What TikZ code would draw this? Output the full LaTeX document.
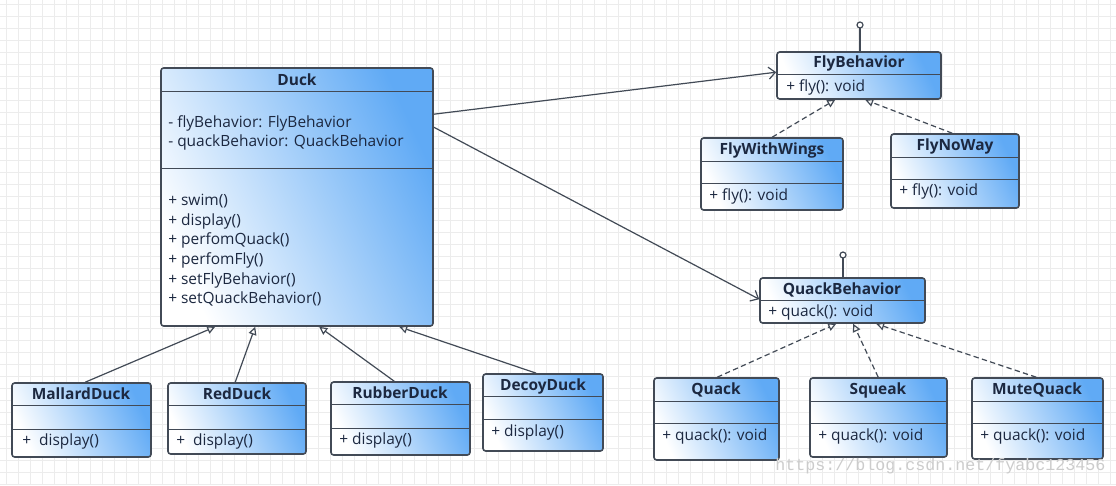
\documentclass[tikz,border=0pt]{standalone}
\usepackage{fontspec}
\setmainfont{Open Sans}
\newfontfamily\wmfont{Liberation Mono}
\usetikzlibrary{arrows.meta}
\usetikzlibrary{fit}
\usetikzlibrary{calc}

\definecolor{umlblue}{RGB}{96,170,245}
\definecolor{umledge}{RGB}{66,74,86}
\definecolor{umltext}{RGB}{28,40,64}
\definecolor{gridgray}{RGB}{236,236,236}

\tikzset{
  umlclass/.style={draw=umledge, line width=1.2pt, rounded corners=2pt,
    left color=white, right color=umlblue, shading angle=115, inner sep=0pt},
  classname/.style={font=\bfseries\fontsize{11.6}{13}\selectfont, text=umltext, inner sep=0pt},
  members/.style={font=\fontsize{11.6}{14.7}\selectfont, text=umltext, align=left, inner sep=0pt},
  sepline/.style={draw=umledge, line width=1pt},
  assoc/.style={draw=umledge, line width=0.9pt, -{Straight Barb[length=5pt,width=9pt]}},
  inherit/.style={draw=umledge, line width=0.9pt, -{Triangle[open,length=6pt,width=6pt]}},
  realize/.style={inherit, dash pattern=on 4pt off 2.5pt},
  gridline/.style={draw=gridgray, line width=0.4pt},
}

\begin{document}
\begin{tikzpicture}[x=0.75pt, y=-0.75pt]
    \useasboundingbox (0,0) rectangle (1116,485);
    \fill[white] (0,0) rectangle (1116,485);
    % background grid
    \foreach \gx in {6,18,...,1116} \draw[gridline] (\gx,0) -- (\gx,485);
    \foreach \gy in {4,16,...,485} \draw[gridline] (0,\gy) -- (1116,\gy);

    % Duck
    \node[umlclass, fit={(161,68) (433,326)}] (duck) {};
    \node[classname] (duckname) at (297,80) {Duck};
    \draw[sepline] ($(duck.north west)+(0,24)$) -- ($(duck.north east)+(0,24)$);
    \draw[sepline] ($(duck.north west)+(0,101)$) -- ($(duck.north east)+(0,101)$);
    \node[members, anchor=north west] (duckattr) at (168,115) {%
      - flyBehavior: FlyBehavior\\
      - quackBehavior: QuackBehavior};
    \node[members, anchor=north west] (duckops) at (168,194) {%
      + swim()\\
      + display()\\
      + perfomQuack()\\
      + perfomFly()\\
      + setFlyBehavior()\\
      + setQuackBehavior()};

    % FlyBehavior (interface)
    \node[umlclass, fit={(777,52) (941,99)}] (fly) {};
    \node[classname] (flyname) at (859,63) {FlyBehavior};
    \draw[sepline] ($(fly.north west)+(0,23)$) -- ($(fly.north east)+(0,23)$);
    \node[members, anchor=west] (flyops) at (786,87) {+ fly(): void};
    \coordinate (flylolli) at (860,25);
    \draw[umledge, line width=0.9pt] (fly.north -| flylolli) -- ($(flylolli)+(0,3)$);
    \draw[umledge, line width=0.9pt, fill=white] (flylolli) circle (3);

    % FlyWithWings
    \node[umlclass, fit={(701,138) (843,210)}] (wings) {};
    \node[classname] (wingsname) at (772,150) {FlyWithWings};
    \draw[sepline] ($(wings.north west)+(0,24)$) -- ($(wings.north east)+(0,24)$);
    \draw[sepline] ($(wings.north west)+(0,46)$) -- ($(wings.north east)+(0,46)$);
    \node[members, anchor=west] (wingsops) at (709,196) {+ fly(): void};

    % FlyNoWay
    \node[umlclass, fit={(891,134) (1019,208)}] (noway) {};
    \node[classname] (nowayname) at (955,146) {FlyNoWay};
    \draw[sepline] ($(noway.north west)+(0,24)$) -- ($(noway.north east)+(0,24)$);
    \draw[sepline] ($(noway.north west)+(0,46)$) -- ($(noway.north east)+(0,46)$);
    \node[members, anchor=west] (nowayops) at (899,191) {+ fly(): void};

    % QuackBehavior (interface)
    \node[umlclass, fit={(760,278) (925,323)}] (quackb) {};
    \node[classname] (quackbname) at (842,290) {QuackBehavior};
    \draw[sepline] ($(quackb.north west)+(0,23)$) -- ($(quackb.north east)+(0,23)$);
    \node[members, anchor=west] (quackbops) at (768,312) {+ quack(): void};
    \coordinate (quacklolli) at (843,255);
    \draw[umledge, line width=0.9pt] (quackb.north -| quacklolli) -- ($(quacklolli)+(0,3)$);
    \draw[umledge, line width=0.9pt, fill=white] (quacklolli) circle (3);

    % Quack
    \node[umlclass, fit={(654,378) (779,460)}] (quack) {};
    \node[classname] (quackname) at (716,390) {Quack};
    \draw[sepline] ($(quack.north west)+(0,24)$) -- ($(quack.north east)+(0,24)$);
    \draw[sepline] ($(quack.north west)+(0,46)$) -- ($(quack.north east)+(0,46)$);
    \node[members, anchor=west] (quackops) at (662,436) {+ quack(): void};

    % Squeak
    \node[umlclass, fit={(810,378) (947,457)}] (squeak) {};
    \node[classname] (squeakname) at (878,390) {Squeak};
    \draw[sepline] ($(squeak.north west)+(0,24)$) -- ($(squeak.north east)+(0,24)$);
    \draw[sepline] ($(squeak.north west)+(0,46)$) -- ($(squeak.north east)+(0,46)$);
    \node[members, anchor=west] (squeakops) at (818,436) {+ quack(): void};

    % MuteQuack
    \node[umlclass, fit={(972,378) (1103,459)}] (mute) {};
    \node[classname] (mutename) at (1037,390) {MuteQuack};
    \draw[sepline] ($(mute.north west)+(0,24)$) -- ($(mute.north east)+(0,24)$);
    \draw[sepline] ($(mute.north west)+(0,46)$) -- ($(mute.north east)+(0,46)$);
    \node[members, anchor=west] (muteops) at (980,436) {+ quack(): void};

    % MallardDuck
    \node[umlclass, fit={(12,383) (151,457)}] (mallard) {};
    \node[classname] (mallardname) at (81,394) {MallardDuck};
    \draw[sepline] ($(mallard.north west)+(0,23)$) -- ($(mallard.north east)+(0,23)$);
    \draw[sepline] ($(mallard.north west)+(0,47)$) -- ($(mallard.north east)+(0,47)$);
    \node[members, anchor=west] (mallardops) at (22,441) {+\ \ display()};

    % RedDuck
    \node[umlclass, fit={(168,383) (306,454)}] (red) {};
    \node[classname] (redname) at (237,394) {RedDuck};
    \draw[sepline] ($(red.north west)+(0,23)$) -- ($(red.north east)+(0,23)$);
    \draw[sepline] ($(red.north west)+(0,47)$) -- ($(red.north east)+(0,47)$);
    \node[members, anchor=west] (redops) at (176,441) {+\ \ display()};

    % RubberDuck
    \node[umlclass, fit={(331,382) (470,455)}] (rubber) {};
    \node[classname] (rubbername) at (400,393) {RubberDuck};
    \draw[sepline] ($(rubber.north west)+(0,23)$) -- ($(rubber.north east)+(0,23)$);
    \draw[sepline] ($(rubber.north west)+(0,47)$) -- ($(rubber.north east)+(0,47)$);
    \node[members, anchor=west] (rubberops) at (339,440) {+ display()};

    % DecoyDuck
    \node[umlclass, fit={(483,374) (603,451)}] (decoy) {};
    \node[classname] (decoyname) at (543,386) {DecoyDuck};
    \draw[sepline] ($(decoy.north west)+(0,23)$) -- ($(decoy.north east)+(0,23)$);
    \draw[sepline] ($(decoy.north west)+(0,46)$) -- ($(decoy.north east)+(0,46)$);
    \node[members, anchor=west] (decoyops) at (491,432) {+ display()};

    % associations
    \draw[assoc] ($(duck.north east)+(0,47)$) -- ($(fly.north west)+(0,21)$);
    \draw[assoc] ($(duck.north east)+(0,60)$) -- ($(quackb.north west)+(0,22)$);
    % generalizations
    \draw[inherit] ($(mallard.north west)+(74,0)$) -- ($(duck.south west)+(55,0)$);
    \draw[inherit] ($(red.north west)+(68,0)$) -- ($(duck.south west)+(95,0)$);
    \draw[inherit] ($(rubber.north west)+(64,0)$) -- ($(duck.south west)+(159,0)$);
    \draw[inherit] ($(decoy.north west)+(54,0)$) -- ($(duck.south west)+(239,0)$);
    % realizations
    \draw[realize] ($(wings.north west)+(72,0)$) -- ($(fly.south west)+(59,0)$);
    \draw[realize] ($(noway.north west)+(62,0)$) -- ($(fly.south west)+(89,0)$);
    \draw[realize] ($(quack.north west)+(64,0)$) -- ($(quackb.south west)+(77,0)$);
    \draw[realize] ($(squeak.north west)+(69,0)$) -- ($(quackb.south west)+(94,0)$);
    \draw[realize] ($(mute.north west)+(65,0)$) -- ($(quackb.south west)+(117,0)$);

    % watermark
    \node[font=\wmfont\fontsize{12.5}{14}\selectfont, text=black!20, anchor=west, inner sep=0pt] (wmark) at (775,466) {https://blog.csdn.net/fyabc123456};
\end{tikzpicture}
\end{document}
